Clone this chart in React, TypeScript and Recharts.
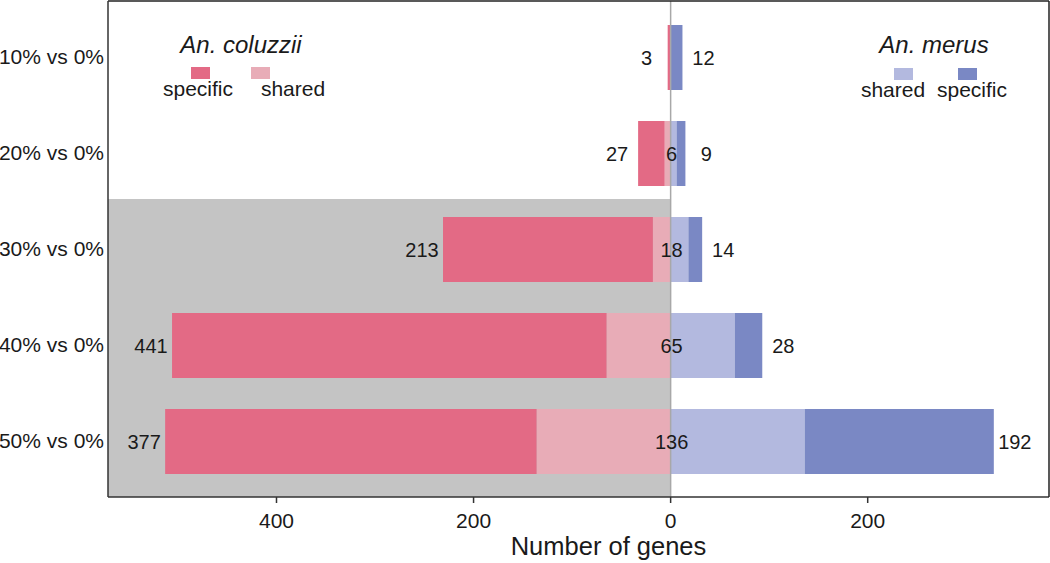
import React from 'react';
import {
  BarChart, Bar, XAxis, YAxis, ReferenceArea, ReferenceLine, LabelList
} from 'recharts';

const categories = ['10% vs 0%', '20% vs 0%', '30% vs 0%', '40% vs 0%', '50% vs 0%'];
const coluzziiSpecific = [3, 27, 213, 441, 377];
const coluzziiShared = [0, 6, 18, 65, 136];
const merusShared = [0, 6, 18, 65, 136];
const merusSpecific = [12, 9, 14, 28, 192];
const xTicks = [-400, -200, 0, 200];
const xDomain = [-571, 384];

const COL_SPEC = '#E36A85';
const COL_SHARED = '#E8ACB7';
const MER_SHARED = '#B3B9DF';
const MER_SPEC = '#7A88C4';
const FONT = '"Liberation Sans", Arial, sans-serif';
const INK = '#1a1a1a';

const data = categories.map((cat, i) => ({
  cat,
  cShared: -coluzziiShared[i],
  cSpec: -coluzziiSpecific[i],
  mShared: merusShared[i],
  mSpec: merusSpecific[i],
}));

// label placed outside the bar end, centred ~21px away
const outerLabel = (side: 'left' | 'right') => (props: any) => {
  const { x, y, width, height, value } = props;
  if (!value) return null;
  const left = Math.min(x, x + width);
  const right = Math.max(x, x + width);
  const tx = side === 'left' ? left - 21 : right + 21;
  return (
    <text x={tx} y={y + height / 2} textAnchor="middle" dominantBaseline="central"
      fontSize={20} fontFamily={FONT} fill={INK}>
      {Math.abs(value)}
    </text>
  );
};

// shared count sits on the zero line
const zeroLabel = (props: any) => {
  const { x, y, height, value } = props;
  if (!value) return null;
  return (
    <text x={x + 1} y={y + height / 2} textAnchor="middle" dominantBaseline="central"
      fontSize={20} fontFamily={FONT} fill={INK}>
      {Math.abs(value)}
    </text>
  );
};

function LegendOverlay() {
  const txt = { fontFamily: FONT, fill: INK } as const;
  return (
    <svg width={1050} height={563} style={{ position: 'absolute', left: 0, top: 0, pointerEvents: 'none' }}>
      <text x={241} y={53} textAnchor="middle" fontSize={24} fontStyle="italic" {...txt}>An. coluzzii</text>
      <rect x={191} y={67} width={19} height={12} fill={COL_SPEC} />
      <rect x={251} y={67} width={19} height={12} fill={COL_SHARED} />
      <text x={198} y={96} textAnchor="middle" fontSize={21} {...txt}>specific</text>
      <text x={293} y={96} textAnchor="middle" fontSize={21} {...txt}>shared</text>

      <text x={934} y={53} textAnchor="middle" fontSize={24} fontStyle="italic" {...txt}>An. merus</text>
      <rect x={894} y={68} width={19} height={12} fill={MER_SHARED} />
      <rect x={958} y={68} width={19} height={12} fill={MER_SPEC} />
      <text x={893} y={97} textAnchor="middle" fontSize={21} {...txt}>shared</text>
      <text x={972} y={97} textAnchor="middle" fontSize={21} {...txt}>specific</text>
    </svg>
  );
}

export default function App() {
  return (
    <div style={{ position: 'absolute', left: 0, top: 0, width: 1050, height: 563, background: '#fff' }}>
      <BarChart
        width={1050}
        height={563}
        data={data}
        layout="vertical"
        stackOffset="sign"
        barSize={65}
        margin={{ top: 0, right: 0, left: 0, bottom: 0 }}
      >
        <XAxis
          type="number"
          domain={xDomain}
          allowDataOverflow
          ticks={xTicks}
          tickFormatter={(v: number) => String(Math.abs(v))}
          height={66}
          tickSize={6}
          tickMargin={10}
          axisLine={{ stroke: '#333', strokeWidth: 1.5 }}
          tickLine={{ stroke: '#333', strokeWidth: 1.5 }}
          tick={{ fontSize: 21, fill: INK, fontFamily: FONT }}
          label={{ value: 'Number of genes', position: 'insideBottom', offset: 8, dx: 30, fontSize: 25.5, fill: INK, fontFamily: FONT }}
        />
        <XAxis xAxisId="top" orientation="top" type="number" domain={[0, 1]} height={1}
          tick={false} tickLine={false} axisLine={{ stroke: '#222', strokeWidth: 1.5 }} />
        <YAxis
          type="category"
          dataKey="cat"
          width={108}
          padding={{ top: 8, bottom: 8 }}
          tickSize={0}
          tickMargin={4}
          tickLine={false}
          axisLine={{ stroke: '#333', strokeWidth: 1.5 }}
          tick={{ fontSize: 21, fill: INK, fontFamily: FONT }}
        />
        <YAxis yAxisId="right" orientation="right" type="number" domain={[0, 1]} width={1}
          tick={false} tickLine={false} axisLine={{ stroke: '#222', strokeWidth: 1.5 }} />

        <ReferenceArea
          x1={xDomain[0]}
          x2={0}
          y1={categories[2]}
          y2={categories[4]}
          ifOverflow="visible"
          shape={(p: any) => (
            <rect x={p.x} y={p.y - 2} width={p.width} height={p.height + 10} fill="#C4C4C4" />
          )}
        />
        <ReferenceLine x={0} stroke="#A8A8A8" strokeWidth={1.5} />

        <Bar dataKey="cShared" stackId="g" fill={COL_SHARED} isAnimationActive={false} />
        <Bar dataKey="cSpec" stackId="g" fill={COL_SPEC} isAnimationActive={false}>
          <LabelList dataKey="cSpec" content={outerLabel('left')} />
        </Bar>
        <Bar dataKey="mShared" stackId="g" fill={MER_SHARED} isAnimationActive={false}>
          <LabelList dataKey="mShared" content={zeroLabel} />
        </Bar>
        <Bar dataKey="mSpec" stackId="g" fill={MER_SPEC} isAnimationActive={false}>
          <LabelList dataKey="mSpec" content={outerLabel('right')} />
        </Bar>
      </BarChart>
      <LegendOverlay />
    </div>
  );
}
